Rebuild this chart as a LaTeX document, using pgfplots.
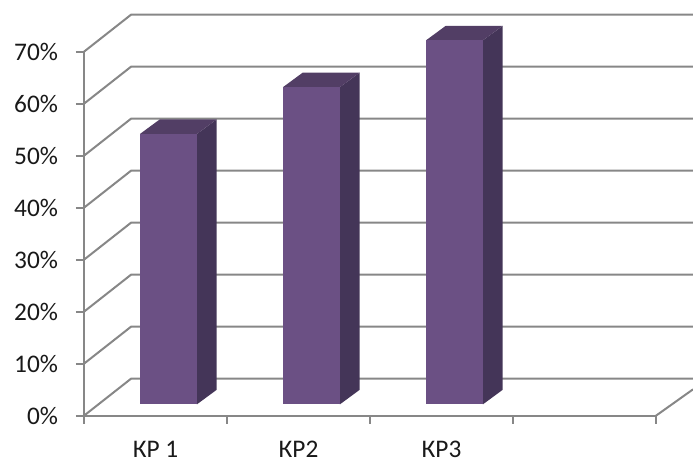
\documentclass[border=0pt]{standalone}
\usepackage{fontspec}
\setmainfont{Carlito}
\usepackage{pgfplots}
\pgfplotsset{compat=1.18}
\definecolor{gridgray}{HTML}{878787}
\definecolor{barfront}{HTML}{6B5084}
\definecolor{barside}{HTML}{443558}
\definecolor{bartop}{HTML}{523E65}
% 1 px = 0.75pt; axis origin sits at pixel (84,415.7)
\begin{document}
\begin{tikzpicture}[x=0.75pt,y=0.75pt]
\useasboundingbox (-84,-43.3) rectangle (609,415.7);
\begin{axis}[
    at={(0,0)}, anchor=origin,
    scale only axis,
    width=429pt, height=273pt,
    xmin=0, xmax=4,
    ymin=0, ymax=70,
    clip=false,
    axis lines=left,
    axis line style={-, gridgray, line width=1.5pt},
    xtick={0.5,1.5,2.5},
    xticklabels={КР 1,КР2,КР3},
    minor xtick={0,1,2,3,4},
    ytick={0,10,...,70},
    yticklabel={\pgfmathprintnumber{\tick}\%},
    /pgf/number format/assume math mode=true,
    tick align=outside,
    major x tick style={draw=none},
    minor tick length=6pt,
    major tick length=6pt,
    tick style={gridgray, line width=1.5pt},
    every tick label/.append style={font=\fontsize{19}{20}\selectfont, text=black!90},
    xticklabel style={text height=12pt, text depth=0pt, inner sep=0pt, anchor=north, yshift=-13.5pt},
    yticklabel style={xshift=-10pt},
]
% gridlines: front edge, diagonal to back wall, back wall
\pgfplotsset{grid line/.style={gridgray, line width=1.5pt, forget plot}}
\addplot[grid line] coordinates {(0,0) (0.329,7.115) (4.259,7.115)};
\addplot[grid line] coordinates {(0,10) (0.329,17.115) (4.259,17.115)};
\addplot[grid line] coordinates {(0,20) (0.329,27.115) (4.259,27.115)};
\addplot[grid line] coordinates {(0,30) (0.329,37.115) (4.259,37.115)};
\addplot[grid line] coordinates {(0,40) (0.329,47.115) (4.259,47.115)};
\addplot[grid line] coordinates {(0,50) (0.329,57.115) (4.259,57.115)};
\addplot[grid line] coordinates {(0,60) (0.329,67.115) (4.259,67.115)};
\addplot[grid line] coordinates {(0,70) (0.329,77.115) (4.259,77.115)};
\addplot[grid line] coordinates {(4,0) (4.259,5.07)};
% КР 1 = 52%
\addplot[fill=barside, draw=none] coordinates {(0.790,2.19) (0.928,4.98) (0.928,56.98) (0.790,54.19)} -- cycle;
\addplot[fill=bartop, draw=none] coordinates {(0.392,54.19) (0.790,54.19) (0.928,56.98) (0.530,56.98)} -- cycle;
\addplot[fill=barfront, draw=none] coordinates {(0.392,2.19) (0.790,2.19) (0.790,54.19) (0.392,54.19)} -- cycle;
% КР2 = 61%
\addplot[fill=barside, draw=none] coordinates {(1.790,2.19) (1.928,4.98) (1.928,65.98) (1.790,63.19)} -- cycle;
\addplot[fill=bartop, draw=none] coordinates {(1.392,63.19) (1.790,63.19) (1.928,65.98) (1.530,65.98)} -- cycle;
\addplot[fill=barfront, draw=none] coordinates {(1.392,2.19) (1.790,2.19) (1.790,63.19) (1.392,63.19)} -- cycle;
% КР3 = 70%
\addplot[fill=barside, draw=none] coordinates {(2.790,2.19) (2.928,4.98) (2.928,74.98) (2.790,72.19)} -- cycle;
\addplot[fill=bartop, draw=none] coordinates {(2.392,72.19) (2.790,72.19) (2.928,74.98) (2.530,74.98)} -- cycle;
\addplot[fill=barfront, draw=none] coordinates {(2.392,2.19) (2.790,2.19) (2.790,72.19) (2.392,72.19)} -- cycle;
\end{axis}
\end{tikzpicture}
\end{document}
